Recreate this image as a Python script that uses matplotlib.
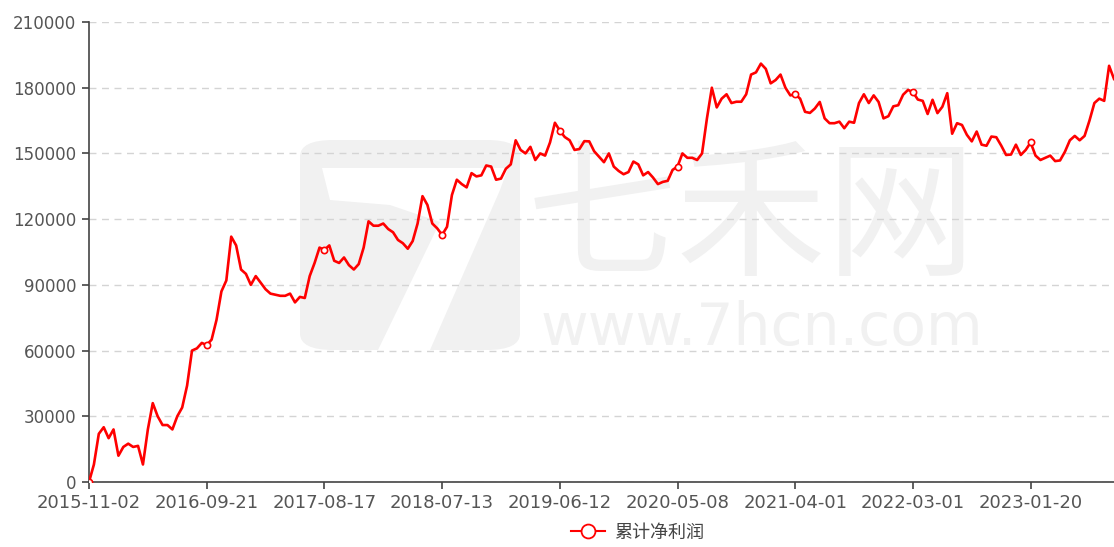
import numpy as np
import matplotlib.pyplot as plt
from matplotlib.lines import Line2D
from matplotlib.patches import FancyBboxPatch, Polygon

plt.rcParams['font.family'] = ['DejaVu Sans', 'Noto Sans CJK SC']

# подписи оси X (каждые 24 точки)
tick_dates = ['2015-11-02', '2016-09-21', '2017-08-17', '2018-07-13', '2019-06-12',
              '2020-05-08', '2021-04-01', '2022-03-01', '2023-01-20']
step = 24

# накопленная чистая прибыль, тыс.
profit_k = [
    0, 8, 22, 25, 20, 24, 12, 16, 17.5, 16,
    16.5, 8, 24, 36, 30, 26, 26, 24, 30, 34,
    44, 60, 61, 63.5, 62.5, 65, 74, 87, 92, 112,
    108, 97, 95, 90, 94, 91, 88, 86, 85.5, 85,
    85, 86, 82, 84.5, 84, 94, 100, 107, 106, 108,
    101, 100, 102.5, 99, 97, 99.5, 107, 119, 117, 117,
    118, 115.5, 114, 110.5, 109, 106.5, 110, 118, 130.5, 126.5,
    118, 115.8, 112.8, 116.5, 131, 138, 136, 134.5, 141, 139.5,
    140, 144.5, 144, 138, 138.5, 143, 145, 156, 151.6, 150,
    153, 147, 150, 149, 155, 164, 160.4, 157.5, 156, 151.6,
    152, 155.6, 155.5, 151, 148.5, 146, 150, 144, 142, 140.5,
    141.5, 146.3, 145, 140, 141.5, 139, 136, 137, 137.5, 142.5,
    144, 150, 148, 148, 147, 150, 166, 180, 171, 175,
    177, 173, 173.6, 173.6, 177, 186, 187, 191, 188.6, 182,
    183.5, 186, 180, 176.5, 177, 175, 169, 168.5, 170.5, 173.5,
    166, 163.8, 163.8, 164.5, 161.5, 164.5, 164, 173, 177, 173,
    176.5, 173.5, 166, 167, 171.5, 172, 176.8, 179, 178, 174.6,
    174, 168, 174.5, 168.4, 171.3, 177.5, 159, 163.8, 163, 158.5,
    155.5, 160, 154, 153.5, 157.7, 157.4, 153.6, 149.3, 149.5, 154,
    149.3, 151.6, 155, 149, 147, 148, 149, 146.5, 146.8, 150.8,
    156, 158, 156, 158, 165, 173, 175, 174, 190, 184,
]
profit = np.array(profit_k) * 1000
x = np.arange(len(profit))

W, H = 1114, 547
fig = plt.figure(figsize=(W / 100, H / 100), dpi=100)
ax = fig.add_axes([89 / W, 65 / H, (W - 89) / W, 460 / H])
ax.set_zorder(2)
ax.patch.set_alpha(0)

# водяной знак
def px(pts):
    return [(a / W, 1 - b / H) for a, b in pts]

wm = '#f1f1f1'
fig.patches.append(FancyBboxPatch((300 / W, 1 - 350 / H), 220 / W, 210 / H,
                                  boxstyle='round,pad=0,rounding_size=0.03',
                                  transform=fig.transFigure, fc=wm, ec='none', zorder=0))
fig.patches.append(Polygon(px([(322, 168), (508, 168), (500, 190), (430, 350), (378, 350),
                               (440, 222), (390, 205), (330, 200)]),
                           closed=True, transform=fig.transFigure, fc='white', ec='none', zorder=0.5))
fig.text(752 / W, 1 - 222 / H, '七禾网', fontsize=108, color=wm, ha='center', va='center',
         family=['Noto Sans CJK SC'], zorder=0)
fig.text(762 / W, 1 - 328 / H, 'www.7hcn.com', fontsize=42, color=wm, ha='center', va='center',
         family=['DejaVu Sans'], zorder=0)

ax.plot(x, profit, color='#ff0000', lw=1.9, marker='o', markevery=step, ms=4.5,
        mfc='white', mec='#ff0000', mew=1.2, zorder=3)

ax.set_xlim(0, len(profit) - 1)
ax.set_ylim(0, 210000)
ax.set_yticks(np.arange(0, 210001, 30000))
ax.set_xticks(np.arange(0, step * len(tick_dates), step))
ax.set_xticklabels(tick_dates)
ax.grid(axis='y', color='#d4d4d4', linestyle=(0, (5, 4)), lw=1, zorder=1)
ax.set_axisbelow(True)

for s in ['top', 'right']:
    ax.spines[s].set_visible(False)
for s in ['left', 'bottom']:
    ax.spines[s].set_color('#444444')
    ax.spines[s].set_linewidth(1.2)
ax.tick_params(axis='both', colors='#444444', length=5, width=1.2, labelsize=12,
               labelcolor='#555555', pad=4)
ax.tick_params(axis='x', labelsize=13)

handle = Line2D([], [], color='#ff0000', lw=1.5, marker='o', ms=10,
                mfc='white', mec='#ff0000', mew=1.3)
fig.legend([handle], ['累计净利润'], loc='center', bbox_to_anchor=(0.572, 0.026),
           frameon=False, handlelength=1.9, handletextpad=0.5, labelcolor='#444444',
           prop={'family': ['Noto Sans CJK SC'], 'size': 13})

fig.savefig('out.png', dpi=100)
